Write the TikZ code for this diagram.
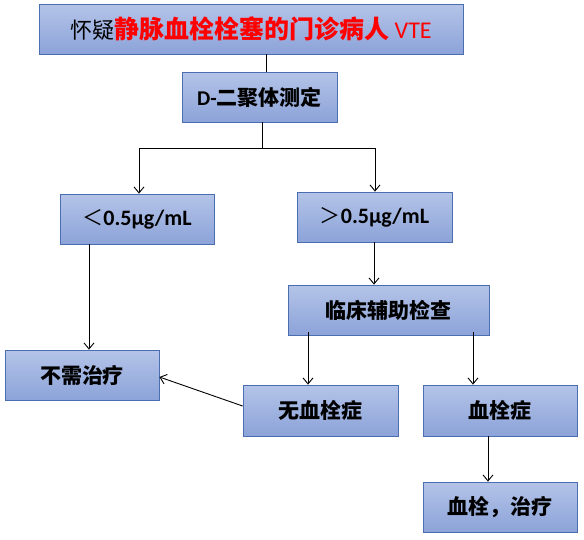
\documentclass[tikz,border=0pt]{standalone}
\usepackage{fontspec}
\setmainfont{Carlito}
\newfontfamily\cjk{Noto Sans CJK SC}
\usetikzlibrary{arrows.meta}
\definecolor{boxtop}{HTML}{B4C4E8}
\definecolor{boxbot}{HTML}{8CA3D9}
\definecolor{boxline}{HTML}{4A6EB0}
\tikzset{
  box/.style={draw=boxline, line width=0.8pt, top color=boxtop, bottom color=boxbot,
    minimum height=50pt, inner sep=0pt, font=\fontsize{21}{24}\selectfont, text=black},
  conn/.style={line width=0.9pt, black},
  arr/.style={conn, -{Straight Barb[length=6pt,width=10pt]}}
}
\begin{document}
\begin{tikzpicture}[x=1pt,y=-1pt]
\useasboundingbox (0,0) rectangle (584,539);
\node[box, minimum width=424pt] (top) at (251,29)
  {{\fontsize{22}{24}\selectfont\cjk 怀疑}{\fontsize{25}{27}\selectfont\cjk\bfseries\color{red}静脉血栓栓塞的门诊病人}\textcolor{red}{\fontsize{24}{27}\selectfont\ VTE}};
\node[box, minimum width=155pt] (dd) at (259.5,97) {\textbf{D-}{\cjk\bfseries 二聚体测定}};
\node[box, minimum width=154pt] (lt) at (137,219) {{\cjk ＜}\textbf{\fontsize{22}{24}\selectfont 0.5µg/mL}};
\node[box, minimum width=155pt] (gt) at (374.5,217) {{\cjk ＞}\textbf{\fontsize{22}{24}\selectfont 0.5µg/mL}};
\node[box, minimum width=201pt] (lc) at (388.5,310) {\cjk\bfseries 临床辅助检查};
\node[box, minimum width=154pt] (no) at (82,375) {\cjk\bfseries 不需治疗};
\node[box, minimum width=155pt, minimum height=51pt] (wx) at (320.5,410.5) {\cjk\bfseries 无血栓症};
\node[box, minimum width=154pt, minimum height=51pt] (xs) at (500,410.5) {\cjk\bfseries 血栓症};
\node[box, minimum width=154pt] (xt) at (500,507) {\cjk\bfseries 血栓，治疗};

\coordinate (split) at (262,148);
\coordinate (sl) at (139,148);
\coordinate (sr) at (375,148);
\draw[conn] (top.south -| 266,0) -- (dd.north -| 266,0);
\draw[conn] (dd.south -| split) -- (split);
\draw[conn] (sl) -- (sr);
\draw[arr] (sl) -- (lt.north -| sl);
\draw[arr] (sr) -- (gt.north -| sr);
\draw[arr] (lt.south -| 89,0) -- (no.north -| 89,0);
\draw[arr] (gt.south -| 374,0) -- (lc.north -| 374,0);
\draw[arr] ([yshift=3pt]lc.south -| 308,0) -- (wx.north -| 308,0);
\draw[arr] ([yshift=3pt]lc.south -| 473,0) -- (xs.north -| 473,0);
\draw[arr] (wx.west |- 0,406) -- (no.east |- 0,377);
\draw[arr] (xs.south -| 488,0) -- (xt.north -| 488,0);
\end{tikzpicture}
\end{document}
